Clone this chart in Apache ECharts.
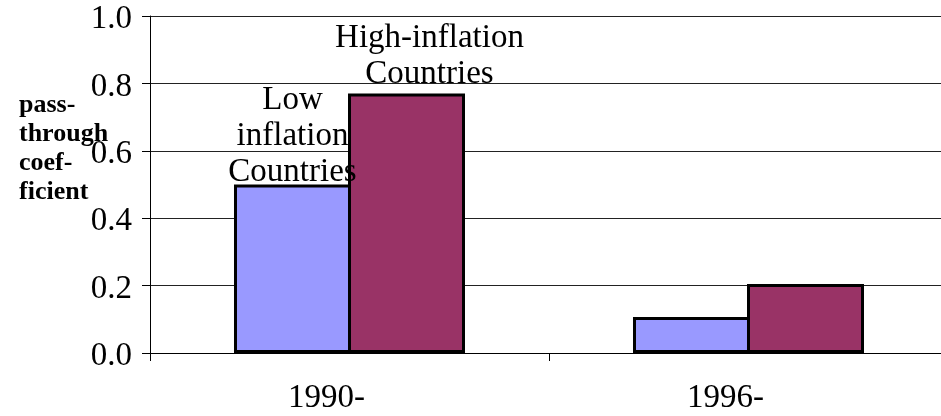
<!DOCTYPE html>
<html>
<head>
<meta charset="utf-8">
<script src="https://cdn.jsdelivr.net/npm/echarts@6/dist/echarts.min.js"></script>
<style>
  html, body { margin: 0; padding: 0; background: #fff; }
  #chart { width: 941px; height: 416px; }
</style>
</head>
<body>
<div id="chart"></div>
<script>
  var categories = ['1990-', '1996-'];
  var lowInflation = [0.50, 0.107];
  var highInflation = [0.77, 0.205];
  var yTicks = [0, 0.2, 0.4, 0.6, 0.8, 1.0];
  var yTitle = 'pass-\nthrough\ncoef-\nficient';
  var lowLabel = 'Low\ninflation\nCountries';
  var highLabel = 'High-inflation\nCountries';

  var serif = 'Liberation Serif';

  function withLabel(values, label, extra) {
    return values.map(function (v, i) {
      if (i !== 0) return v;
      return {
        value: v,
        label: Object.assign({
          show: true,
          position: 'top',
          formatter: label,
          fontFamily: serif,
          fontSize: 33,
          lineHeight: 36,
          color: '#000',
          align: 'center'
        }, extra)
      };
    });
  }

  var chart = echarts.init(document.getElementById('chart'));
  chart.setOption({
    animation: false,
    title: {
      text: yTitle,
      left: 14,
      top: 86,
      textStyle: {
        fontFamily: serif,
        fontWeight: 'bold',
        fontSize: 26,
        lineHeight: 29,
        color: '#000'
      }
    },
    grid: {
      left: 150,
      width: 798,
      top: 16,
      bottom: 63,
      outerBoundsMode: 'none'
    },
    xAxis: {
      type: 'category',
      data: categories,
      axisLine: { lineStyle: { color: '#000', width: 1 } },
      axisTick: { show: true, length: 8, lineStyle: { color: '#000' } },
      axisLabel: {
        fontFamily: serif,
        fontSize: 33,
        color: '#000',
        margin: 29,
        padding: [0, 46, 0, 0]
      }
    },
    yAxis: {
      type: 'value',
      min: yTicks[0],
      max: yTicks[yTicks.length - 1],
      interval: 0.2,
      axisLine: { show: true, lineStyle: { color: '#000', width: 1 } },
      axisTick: { show: true, length: 8, lineStyle: { color: '#000' } },
      splitLine: { show: true, lineStyle: { color: '#222', width: 1 } },
      axisLabel: {
        fontFamily: serif,
        fontSize: 33,
        color: '#000',
        margin: 18,
        verticalAlign: 'top',
        lineHeight: 7,
        formatter: function (v) { return v.toFixed(1); }
      }
    },
    series: [
      {
        name: 'Low inflation Countries',
        type: 'bar',
        barWidth: 117,
        barGap: '-2.564%',
        data: withLabel(lowInflation, lowLabel, { distance: -6 }),
        itemStyle: { color: '#9999FF', borderColor: '#000', borderWidth: 3 }
      },
      {
        name: 'High-inflation Countries',
        type: 'bar',
        barWidth: 117,
        barGap: '-2.564%',
        data: withLabel(highInflation, highLabel, { distance: 1, offset: [23, 0] }),
        itemStyle: { color: '#993366', borderColor: '#000', borderWidth: 3 }
      }
    ]
  });
</script>
</body>
</html>
